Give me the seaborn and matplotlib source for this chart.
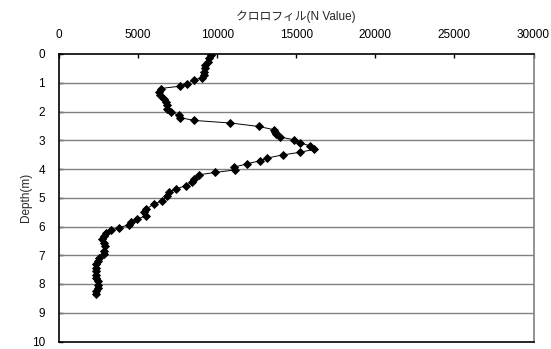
import matplotlib
matplotlib.use("Agg")
import matplotlib.pyplot as plt
import seaborn as sns
import pandas as pd

depth = [0.03, 0.15, 0.27, 0.38, 0.50, 0.62, 0.73, 0.82, 0.91, 1.03, 1.12,
         1.20, 1.32, 1.43, 1.55, 1.67, 1.78, 1.90, 2.02, 2.13, 2.21, 2.31,
         2.40, 2.52, 2.63, 2.70, 2.77, 2.89, 2.98, 3.09, 3.20, 3.32, 3.42,
         3.51, 3.62, 3.71, 3.82, 3.94, 4.03, 4.12, 4.20, 4.35, 4.46, 4.58,
         4.70, 4.81, 4.93, 5.10, 5.22, 5.40, 5.51, 5.63, 5.74, 5.86, 5.94,
         6.04, 6.13, 6.21, 6.33, 6.44, 6.56, 6.68, 6.85, 6.97, 7.09, 7.20,
         7.32, 7.44, 7.55, 7.67, 7.79, 7.90, 8.02, 8.14, 8.25, 8.34]
chl = [9580, 9470, 9410, 9262, 9200, 9160, 9160, 9055, 8527, 8107, 7640,
       6430, 6320, 6385, 6640, 6740, 6800, 6850, 7060, 7580, 7640, 8527,
       10840, 12620, 13570, 13650, 13750, 13990, 14830, 15250, 15900, 16100, 15210,
       14140, 13150, 12730, 11890, 11050, 11150, 9890, 8840, 8530, 8420, 8000,
       7370, 6950, 6850, 6530, 6000, 5480, 5380, 5480, 4960, 4540, 4430,
       3800, 3280, 2960, 2860, 2750, 2860, 2900, 2860, 2820, 2540, 2440,
       2370, 2330, 2330, 2330, 2370, 2440, 2480, 2440, 2330, 2330]

x_ticks = [0, 5000, 10000, 15000, 20000, 25000, 30000]
y_ticks = list(range(0, 11))
title = "クロロフィル(N Value)"
ylabel = "Depth(m)"

sns.set_style("white")
plt.rcParams['font.family'] = ['Liberation Sans', 'Noto Sans CJK JP']

df = pd.DataFrame({"depth": depth, "chl": chl})

fig = plt.figure(figsize=(5.51, 3.49), dpi=100)
ax = fig.add_axes([59/551, 1 - 341.5/349, (533.5 - 59)/551, (341.5 - 54)/349])

for yv in y_ticks[1:-1]:
    ax.axhline(yv, color="#808080", lw=1.0, zorder=1)

sns.lineplot(data=df, x="chl", y="depth", sort=False, estimator=None,
             color="black", lw=0.7, marker="D", markersize=3.8,
             markeredgewidth=0.6, markeredgecolor="black", ax=ax, zorder=3)

ax.set_xlim(0, 30000)
ax.set_ylim(10, 0)
ax.xaxis.tick_top()
ax.xaxis.set_label_position("top")
ax.set_xticks(x_ticks)
ax.set_yticks(y_ticks)
ax.set_xticklabels([str(v) for v in x_ticks])
ax.tick_params(axis="both", direction="in", length=3, width=1, labelsize=8.5,
               colors="black")
ax.tick_params(axis="x", top=True, bottom=False, pad=9)
ax.tick_params(axis="y", left=True, right=False, pad=10)
ax.set_xlabel(title, fontsize=8.5, labelpad=7)
ax.set_ylabel(ylabel, fontsize=8.5)
ax.yaxis.set_label_coords(-0.057, 0.5)

for s in ["top", "left", "bottom"]:
    ax.spines[s].set_visible(True)
    ax.spines[s].set_color("black")
    ax.spines[s].set_linewidth(1.2)
ax.spines["right"].set_visible(True)
ax.spines["right"].set_color("#808080")
ax.spines["right"].set_linewidth(1.2)

fig.savefig("out.png", dpi=100)
